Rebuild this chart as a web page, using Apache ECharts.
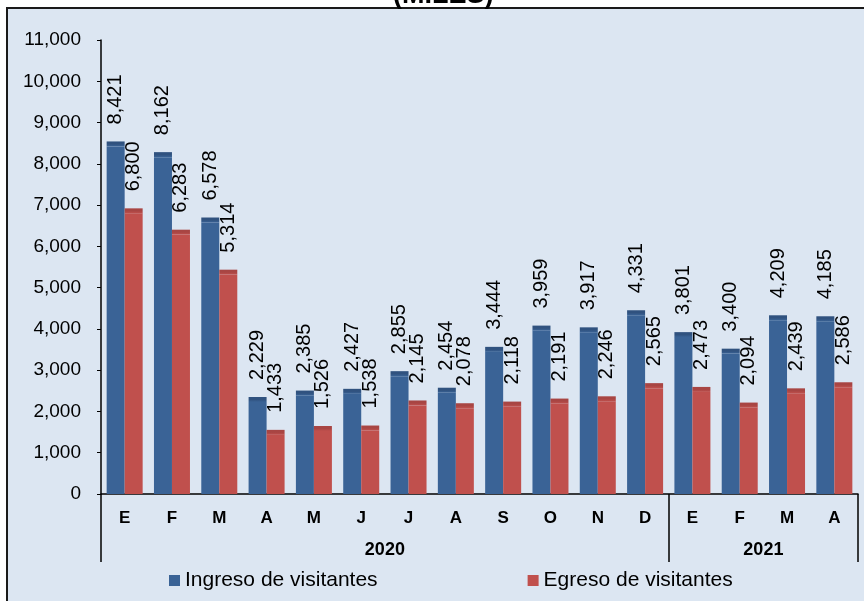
<!DOCTYPE html>
<html>
<head>
<meta charset="utf-8">
<script src="https://cdn.jsdelivr.net/npm/echarts@6/dist/echarts.min.js"></script>
<style>
  body { margin: 0; background: #fff; }
  #wrap { position: relative; width: 864px; height: 601px; overflow: hidden; }
  #box {
    position: absolute; left: 6px; top: 7px; width: 900px; height: 700px;
    background: #dce6f2; border: 2px solid #1a1a1a;
  }
  #chart { position: absolute; left: 0; top: 0; width: 864px; height: 601px; }
</style>
</head>
<body>
<div id="wrap">
  <div id="box"></div>
  <div id="chart"></div>
</div>
<script>
const months = ["E", "F", "M", "A", "M", "J", "J", "A", "S", "O", "N", "D", "E", "F", "M", "A"];
const years = ["2020", "2021"];
const ingreso = [8421, 8162, 6578, 2229, 2385, 2427, 2855, 2454, 3444, 3959, 3917, 4331, 3801, 3400, 4209, 4185];
const egreso = [6800, 6283, 5314, 1433, 1526, 1538, 2145, 2078, 2118, 2191, 2246, 2565, 2473, 2094, 2439, 2586];

let chart = echarts.init(document.getElementById("chart"));
const fmt = (v) => v.toLocaleString("en-US");

let labelStyle = {
  show: true,
  position: "top",
  rotate: 90,
  align: "left",
  verticalAlign: "middle",
  distance: 22,
  fontFamily: "Liberation Sans",
  fontSize: 20,
  color: "#000",
  formatter: (p) => fmt(p.value),
};

// darker strip on top of each bar (the 3d look of the original)
function cap(name, data, top, base) {
  return {
    name: name,
    type: "pictorialBar",
    xAxisIndex: 0,
    barWidth: 18,
    barGap: "0%",
    symbol: "rect",
    symbolSize: [18, 5],
    symbolPosition: "end",
    symbolOffset: [0, "-100%"],
    data: data,
    z: 3,
    itemStyle: {
      color: new echarts.graphic.LinearGradient(0, 0, 0, 1, [
        { offset: 0, color: top },
        { offset: 0.5, color: top },
        { offset: 1, color: base },
      ]),
    },
    tooltip: { show: false },
  };
}

let option = {
  animation: false,
  title: {
    text: "(MILES)",
    left: 388,
    top: -23,
    textStyle: { fontFamily: "Liberation Sans", fontWeight: "bold", fontSize: 27, color: "#000" },
  },
  grid: { left: 101, right: 6, top: 40, bottom: 107, containLabel: false },
  legend: {
    left: 164,
    top: 565,
    itemGap: 150,
    itemWidth: 11,
    itemHeight: 11,
    icon: "rect",
    data: ["Ingreso de visitantes", "Egreso de visitantes"],
    textStyle: { fontFamily: "Liberation Sans", fontSize: 21, color: "#000" },
  },
  xAxis: [
    {
      type: "category",
      data: months,
      axisLine: { lineStyle: { color: "#000", width: 1.5 } },
      axisTick: { show: false },
      axisLabel: {
        margin: 16,
        fontFamily: "Liberation Sans",
        fontWeight: "bold",
        fontSize: 17,
        color: "#000",
      },
    },
    {
      type: "value",
      position: "bottom",
      min: 0,
      max: months.length,
      axisLine: { show: false },
      splitLine: { show: false },
      axisTick: {
        show: true,
        length: 68,
        customValues: [0, 12, 16],
        lineStyle: { color: "#000", width: 1.5 },
      },
      axisLabel: {
        show: true,
        margin: 47,
        customValues: [6, 14],
        formatter: (v) => (v === 6 ? years[0] : years[1]),
        fontFamily: "Liberation Sans",
        fontWeight: "bold",
        fontSize: 18,
        color: "#000",
      },
    },
  ],
  yAxis: {
    type: "value",
    min: 0,
    max: 11000,
    interval: 1000,
    axisLine: { show: true, lineStyle: { color: "#000", width: 1.5 } },
    axisTick: { show: true, length: 4, lineStyle: { color: "#000" } },
    splitLine: { show: false },
    axisLabel: {
      margin: 20,
      formatter: fmt,
      fontFamily: "Liberation Sans",
      fontSize: 19,
      color: "#000",
    },
  },
  series: [
    {
      name: "Ingreso de visitantes",
      type: "bar",
      xAxisIndex: 0,
      barWidth: 18,
      barGap: "0%",
      data: ingreso,
      itemStyle: { color: "#3a6396" },
      label: labelStyle,
    },
    {
      name: "Egreso de visitantes",
      type: "bar",
      xAxisIndex: 0,
      barWidth: 18,
      barGap: "0%",
      data: egreso,
      itemStyle: { color: "#c0504d" },
      label: labelStyle,
    },
    cap("capIngreso", ingreso, "#30527f", "#3a6396"),
    cap("capEgreso", egreso, "#a84543", "#c0504d"),
  ],
};
option && chart.setOption(option);
</script>
</body>
</html>
